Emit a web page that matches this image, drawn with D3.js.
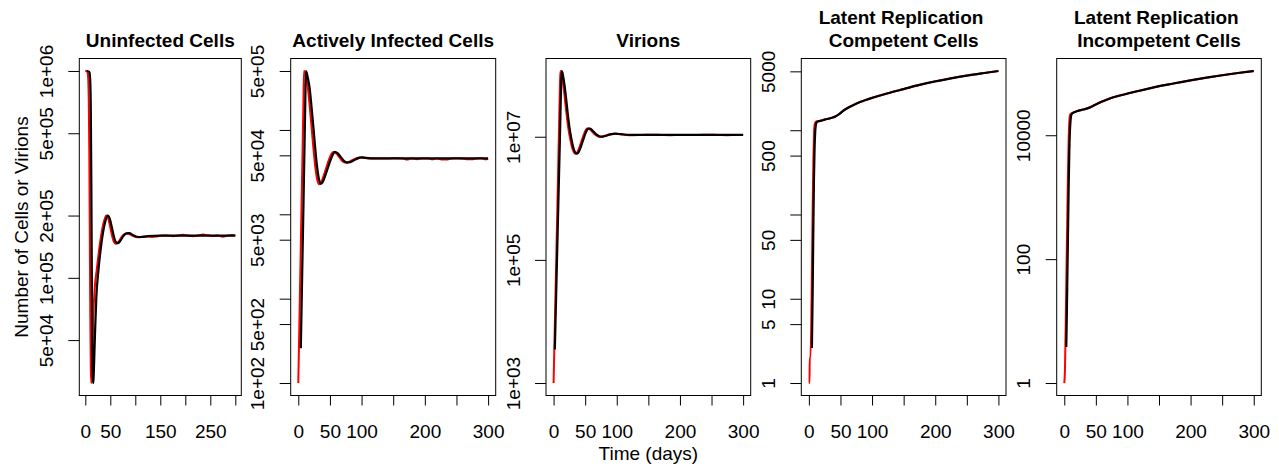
<!DOCTYPE html>
<html>
<head>
<meta charset="utf-8">
<script src="https://cdn.jsdelivr.net/npm/d3@7"></script>
<style>
  body { margin: 0; background: #fff; }
  svg text { font-family: "Liberation Sans", Arial, Helvetica, sans-serif; font-size: 19px; fill: #000; }
  .title { font-weight: bold; white-space: pre; }
</style>
</head>
<body>
<div id="chart"></div>
<script>
// ---- data ----
// each series: [time (days), count]; red = stochastic run, black = deterministic model

const titles = [
  ["Uninfected Cells"],
  ["Actively Infected Cells"],
  ["Virions"],
  ["Latent Replication ", "Competent Cells"],
  ["Latent Replication ", "Incompetent Cells"]
];

const xTicks = [0, 50, 100, 150, 200, 250, 300];
const xLabelsFirst = ["0", "50", "", "150", "", "250", ""];
const xLabelsRest = ["0", "50", "100", "", "200", "", "300"];

const uninfTicks = [5e4, 1e5, 2e5, 5e5, 1e6];
const uninfLabels = ["5e+04", "1e+05", "2e+05", "5e+05", "1e+06"];
const activeTicks = [1e2, 5e2, 1e3, 5e3, 1e4, 5e4, 1e5, 5e5];
const activeLabels = ["1e+02", "5e+02", "", "5e+03", "", "5e+04", "", "5e+05"];
const virTicks = [1e3, 1e5, 1e7];
const virLabels = ["1e+03", "1e+05", "1e+07"];
const compTicks = [1, 5, 10, 50, 100, 500, 1000, 5000];
const compLabels = ["1", "5", "10", "50", "", "500", "", "5000"];
const incompTicks = [1, 100, 10000];
const incompLabels = ["1", "100", "10000"];

const uninfRed = [[0,1e6],[3,1e6],[5,9.7e5],[6,9e5],[7,7e5],[8,4e5],[9,1.6e5],[10,6.5e4],[11,3.6e4],[12,3.1e4],
  [14,4.2e4],[16,6.5e4],[19,9e4],[23,1.1e5],[29,1.45e5],[36,1.82e5],[42,2e5],[46,1.93e5],[50,1.75e5],[54,1.58e5],
  [58,1.48e5],[62,1.46e5],[67,1.5e5],[73,1.58e5],[79,1.63e5],[85,1.64e5],[92,1.61e5],[100,1.58e5],[108,1.57e5],[115,1.58e5],
  [125,1.585e5],[135,1.575e5],[145,1.59e5],[155,1.6e5],[165,1.6e5],[175,1.59e5],[185,1.6e5],[195,1.615e5],[205,1.6e5],[215,1.59e5],
  [225,1.6e5],[235,1.62e5],[245,1.605e5],[255,1.595e5],[265,1.6e5],[275,1.58e5],[285,1.6e5],[295,1.61e5],[300,1.6e5]];
const uninfBlack = [[3,1e6],[8,9.9e5],[9,9.6e5],[10,8.8e5],[11,6.5e5],[12,3e5],[13,1.1e5],[14,4.8e4],[15,3.3e4],[16,3.1e4],
  [17,3.5e4],[19,5e4],[22,8e4],[26,1.07e5],[32,1.45e5],[39,1.83e5],[45,2e5],[49,1.93e5],[53,1.76e5],[57,1.59e5],
  [61,1.49e5],[65,1.47e5],[70,1.51e5],[76,1.59e5],[82,1.64e5],[88,1.645e5],[95,1.61e5],[103,1.58e5],[111,1.575e5],[125,1.59e5],
  [150,1.6e5],[200,1.6e5],[250,1.6e5],[300,1.6e5]];

const activeRed = [[0,1e2],[2,6.6e2],[4,4.4e3],[6,2.9e4],[8,1.9e5],[9,5e5],[10,4.9e5],[12,4.4e5],[15,3.2e5],[18,1.93e5],
  [21,1.07e5],[24,5.9e4],[27,3.57e4],[30,2.55e4],[33,2.27e4],[36,2.4e4],[40,2.85e4],[44,3.52e4],[48,4.35e4],[52,5.15e4],
  [55,5.47e4],[60,5.25e4],[65,4.73e4],[70,4.25e4],[75,4.1e4],[80,4.18e4],[86,4.4e4],[92,4.62e4],[97,4.7e4],[105,4.65e4],
  [115,4.6e4],[125,4.6e4],[135,4.58e4],[145,4.6e4],[155,4.62e4],[165,4.6e4],[172,4.45e4],[178,4.6e4],[188,4.5e4],[195,4.6e4],
  [205,4.6e4],[212,4.48e4],[220,4.6e4],[228,4.45e4],[236,4.47e4],[242,4.6e4],[250,4.62e4],[258,4.6e4],[266,4.5e4],[274,4.48e4],
  [282,4.6e4],[290,4.62e4],[296,4.48e4],[300,4.55e4]];
const activeBlack = [[4,258],[6,1.7e3],[8,1.1e4],[10,7.5e4],[11,2e5],[12,5e5],[13,4.8e5],[15,4.2e5],[18,3.1e5],[21,1.85e5],
  [24,1.05e5],[27,5.8e4],[30,3.5e4],[33,2.55e4],[35.5,2.3e4],[38.5,2.4e4],[42,2.8e4],[46.5,3.5e4],[50.5,4.3e4],[54.5,5.1e4],
  [58,5.5e4],[62,5.3e4],[67,4.8e4],[72,4.3e4],[77,4.1e4],[82,4.15e4],[88,4.37e4],[94,4.6e4],[100,4.72e4],[108,4.66e4],
  [120,4.6e4],[150,4.6e4],[200,4.6e4],[250,4.6e4],[300,4.6e4]];

const virRed = [[0,1e3],[2,9e3],[4,8e4],[6,7.5e5],[8,7e6],[10,6.5e7],[10.8,1.17e8],[12,1.12e8],[14,8.8e7],[17,5e7],
  [20,2.6e7],[23,1.45e7],[26,9.5e6],[29,6.8e6],[32,5.6e6],[34.5,5.3e6],[37,5.5e6],[41,6.8e6],[45,9e6],[49,1.17e7],
  [53,1.36e7],[56,1.35e7],[60,1.24e7],[65,1.1e7],[70,1.02e7],[74,1e7],[80,1.03e7],[88,1.09e7],[96,1.12e7],[105,1.1e7],
  [115,1.07e7],[125,1.06e7],[140,1.07e7],[155,1.08e7],[170,1.07e7],[185,1.06e7],[200,1.07e7],[215,1.065e7],[230,1.07e7],[245,1.08e7],
  [260,1.07e7],[275,1.06e7],[290,1.07e7],[300,1.07e7]];
const virBlack = [[2,3.5e3],[4,2.5e4],[6,1.8e5],[8,1.3e6],[10,9e6],[11.5,4.5e7],[12.7,1.17e8],[14,1.1e8],[16,8.5e7],[19,5e7],
  [22,2.6e7],[25,1.45e7],[28,9.5e6],[31,6.8e6],[34,5.6e6],[36.5,5.3e6],[39,5.5e6],[43,6.8e6],[47,9e6],[51,1.17e7],
  [55,1.36e7],[58,1.36e7],[62,1.25e7],[67,1.1e7],[72,1.02e7],[76,1e7],[82,1.03e7],[90,1.09e7],[98,1.12e7],[107,1.1e7],
  [120,1.07e7],[150,1.07e7],[200,1.07e7],[250,1.07e7],[300,1.07e7]];

const compRed = [[0,1],[1,1],[1.3,2],[2.5,2],[4,7],[5,30],[6,120],[7,400],[8,850],[9,1150],
  [10,1230],[12,1270],[17,1290],[25,1340],[35,1400],[42,1460],[49,1580],[55,1720],[62,1850],[70,1990],
  [80,2150],[90,2290],[100,2420],[125,2750],[150,3080],[175,3450],[200,3800],[225,4130],[250,4450],[275,4750],[300,5050]];
const compBlack = [[4.8,2.6],[6,12],[7,60],[8,250],[9,600],[10,950],[11,1150],[12,1230],[14,1270],[18,1290],
  [25,1335],[35,1395],[42,1455],[49,1575],[55,1715],[62,1845],[70,1985],[80,2145],[90,2290],[100,2420],
  [125,2750],[150,3080],[175,3450],[200,3800],[225,4130],[250,4450],[275,4750],[300,5050]];

const incompRed = [[0,1],[1,1.5],[2,6],[3,30],[4,150],[5,700],[6,3000],[7,9000],[8,1.7e4],[9,2.1e4],
  [10,2.2e4],[13,2.3e4],[20,2.45e4],[30,2.6e4],[40,2.8e4],[50,3.15e4],[60,3.5e4],[70,3.85e4],[85,4.3e4],[100,4.7e4],
  [125,5.4e4],[150,6.2e4],[175,6.9e4],[200,7.7e4],[225,8.5e4],[250,9.3e4],[275,1.01e5],[300,1.09e5]];
const incompBlack = [[3.2,3.8],[4,12],[5,60],[6,300],[7,1500],[8,5500],[9,1.2e4],[10,1.75e4],[11,2.1e4],[12.5,2.25e4],
  [15,2.33e4],[20,2.44e4],[30,2.6e4],[40,2.79e4],[50,3.14e4],[60,3.5e4],[70,3.85e4],[85,4.3e4],[100,4.7e4],
  [125,5.4e4],[150,6.2e4],[175,6.9e4],[200,7.7e4],[225,8.5e4],[250,9.3e4],[275,1.01e5],[300,1.09e5]];

// ---- layout ----
const width = 1279, height = 467;
const boxLeft = [79.3, 290.7, 546, 801.3, 1056.7];
const boxRight = [241.3, 495.7, 750.7, 1006, 1261.3];
const boxTop = 58.5, boxBottom = 395.5;

const panels = [
  { red: uninfRed, black: uninfBlack, ticks: uninfTicks, labels: uninfLabels, xLabels: xLabelsFirst },
  { red: activeRed, black: activeBlack, ticks: activeTicks, labels: activeLabels, xLabels: xLabelsRest },
  { red: virRed, black: virBlack, ticks: virTicks, labels: virLabels, xLabels: xLabelsRest },
  { red: compRed, black: compBlack, ticks: compTicks, labels: compLabels, xLabels: xLabelsRest },
  { red: incompRed, black: incompBlack, ticks: incompTicks, labels: incompLabels, xLabels: xLabelsRest }
];

const svg = d3.select("#chart").append("svg")
  .attr("width", width)
  .attr("height", height);

panels.forEach((p, i) => {
  const L = boxLeft[i], R = boxRight[i];

  // R-style 4% padding on both axes (log space for y)
  const x = d3.scaleLinear().domain([-12, 312]).range([L, R]);
  const ext = d3.extent(p.red.concat(p.black), d => d[1]);
  const lo = Math.log10(ext[0]), hi = Math.log10(ext[1]);
  const pad = 0.04 * (hi - lo);
  const y = d3.scaleLog()
    .domain([Math.pow(10, lo - pad), Math.pow(10, hi + pad)])
    .range([boxBottom, boxTop]);

  const line = d3.line()
    .x(d => x(d[0]))
    .y(d => y(d[1]))
    .curve(d3.curveMonotoneX);

  svg.append("path")
    .attr("d", line(p.red))
    .attr("fill", "none")
    .attr("stroke", "#ff0000")
    .attr("stroke-width", 2);

  svg.append("path")
    .attr("d", line(p.black))
    .attr("fill", "none")
    .attr("stroke", "#000")
    .attr("stroke-width", 2.2);

  // box
  svg.append("rect")
    .attr("x", L)
    .attr("y", boxTop)
    .attr("width", R - L)
    .attr("height", boxBottom - boxTop)
    .attr("fill", "none")
    .attr("stroke", "#000")
    .attr("stroke-width", 1);

  // x axis
  const gx = svg.append("g")
    .attr("transform", `translate(0,${boxBottom})`)
    .call(d3.axisBottom(x)
      .tickValues(xTicks)
      .tickFormat((d, k) => p.xLabels[k])
      .tickSize(10)
      .tickSizeOuter(0));
  gx.select(".domain").remove();
  gx.selectAll(".tick line").attr("stroke", "#000");
  gx.selectAll(".tick text")
    .attr("y", 42)
    .attr("dy", null)
    .attr("font-size", null)
    .attr("font-family", null)
    .attr("fill", null);
  gx.attr("font-size", null).attr("font-family", null);

  // y axis
  const gy = svg.append("g")
    .attr("transform", `translate(${L},0)`)
    .call(d3.axisLeft(y)
      .tickValues(p.ticks)
      .tickFormat((d, k) => p.labels[k])
      .tickSize(11)
      .tickSizeOuter(0));
  gy.select(".domain").remove();
  gy.selectAll(".tick line").attr("stroke", "#000");
  gy.selectAll(".tick text")
    .attr("x", 0)
    .attr("y", 0)
    .attr("dy", null)
    .attr("fill", null)
    .attr("text-anchor", "middle")
    .attr("transform", "translate(-26.5,0) rotate(-90)");
  gy.attr("font-size", null).attr("font-family", null);

  // title
  const cx = (L + R) / 2;
  const lines = titles[i];
  lines.forEach((t, k) => {
    svg.append("text")
      .attr("class", "title")
      .attr("x", cx)
      .attr("y", lines.length === 1 ? 46.5 : 24 + k * 22.5)
      .attr("text-anchor", "middle")
      .text(t);
  });
});

// axis titles
svg.append("text")
  .attr("x", (boxLeft[2] + boxRight[2]) / 2)
  .attr("y", 459.5)
  .attr("text-anchor", "middle")
  .text("Time (days)");

svg.append("text")
  .attr("transform", `translate(28,${(boxTop + boxBottom) / 2}) rotate(-90)`)
  .attr("text-anchor", "middle")
  .text("Number of Cells or Virions");
</script>
</body>
</html>
